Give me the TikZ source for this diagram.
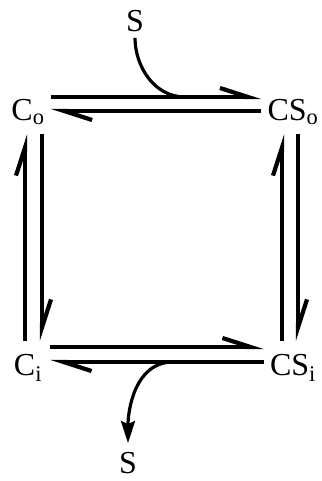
\documentclass[tikz,border=0pt]{standalone}
\usepackage{fontspec}
\setmainfont{Liberation Serif}
\usetikzlibrary{arrows.meta, positioning, calc}

\begin{document}
\begin{tikzpicture}[x=1pt, y=1pt,
  st/.style={inner xsep=6pt, inner ysep=9pt, minimum width=44pt, text height=25pt, text depth=4pt, anchor=base, font=\fontsize{32}{38}\selectfont},
  sub/.style={inner xsep=6pt, inner ysep=2pt, font=\fontsize{32}{38}\selectfont},
  harp/.style={-{Straight Barb[left, length=28pt, width=18pt, line width=4.2pt]}, line width=3.2pt},
  flux/.style={line width=3.2pt}
]
  \useasboundingbox (0,0) rectangle (321,-481);
  \node[st] (Co)  at (28,-121)  {C\textsubscript{o}};
  \node[st] (CSo) at (293,-121) {CS\textsubscript{o}};
  \node[st] (Ci)  at (28,-375)  {C\textsubscript{i}};
  \node[st] (CSi) at (293,-375) {CS\textsubscript{i}};
  \node[sub] (Sin) at (135,-21) {S};
  \node[sub] (Sout) at (128,-463) {S};
  \coordinate (bind) at (185,-97);
  \coordinate (free) at (173,-362);
  % outside face
  \draw[harp] ([yshift=24pt]Co.base east) -- ([yshift=24pt]CSo.base west);
  \draw[harp] ([yshift=10pt]CSo.base west) -- ([yshift=10pt]Co.base east);
  % inside face
  \draw[harp] ([yshift=28pt]Ci.base east) -- ([yshift=28pt]CSi.base west);
  \draw[harp] ([yshift=13pt]CSi.base west) -- ([yshift=13pt]Ci.base east);
  % flips
  \draw[harp] ($(Co.south |- Ci.north)+(-3,0)$) -- ($(Co.south)+(-3,0)$);
  \draw[harp] ($(Co.south)+(14,0)$) -- ($(Co.south |- Ci.north)+(14,0)$);
  \draw[harp] ($(CSo.south |- CSi.north)+(-11,0)$) -- ($(CSo.south)+(-11,0)$);
  \draw[harp] ($(CSo.south)+(5,0)$) -- ($(CSo.south |- CSi.north)+(5,0)$);
  % substrate in and out
  \draw[flux, shorten <=4pt] (Sin.south) to[out=-90, in=180] (bind);
  \draw[flux, shorten >=7pt, -{Stealth[length=22pt, width=14pt, inset=3pt]}] (free) to[out=180, in=90] (Sout.north);
\end{tikzpicture}
\end{document}
